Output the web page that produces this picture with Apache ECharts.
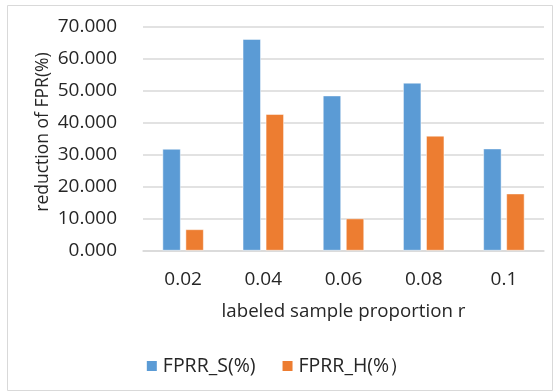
<!DOCTYPE html>
<html>
<head>
<meta charset="utf-8">
<script src="https://cdn.jsdelivr.net/npm/echarts@6/dist/echarts.min.js"></script>
<style>
html,body{margin:0;padding:0;background:#fff;}
#chart{width:554px;height:392px;}
</style>
</head>
<body>
<div id="chart"></div>
<script>
const categories = ['0.02', '0.04', '0.06', '0.08', '0.1'];
const fprrS = [31.8, 66.2, 48.5, 52.5, 31.9];
const fprrH = [6.6, 42.7, 10.0, 35.9, 17.8];
const seriesNames = ['FPRR_S(%)', 'FPRR_H(%）'];
const yTicks = { min: 0, max: 70, interval: 10 };
const yName = 'reduction of FPR(%)';
const xName = 'labeled sample proportion r';

const FONT = 'Open Sans';
const TXT = '#262626';
const chart = echarts.init(document.getElementById('chart'));
chart.setOption({
  animation: false,
  textStyle: { fontFamily: FONT },
  graphic: [{
    type: 'rect',
    shape: { x: 7.5, y: 5.5, width: 545, height: 385 },
    style: { fill: 'none', stroke: '#D9D9D9', lineWidth: 1 },
    silent: true
  }, {
    type: 'text',
    x: 43, y: 132,
    rotation: Math.PI / 2,
    style: {
      text: yName, fontFamily: FONT, fontSize: 17.5, fill: TXT,
      align: 'center', verticalAlign: 'middle'
    },
    silent: true
  }],
  grid: { left: 143, right: 10, top: 27, bottom: 141.5, containLabel: false },
  legend: {
    data: seriesNames,
    top: 351,
    left: 'center',
    itemWidth: 12,
    itemHeight: 12,
    itemGap: 25,
    icon: 'rect',
    textStyle: { fontFamily: FONT, fontSize: 19.5, color: TXT }
  },
  xAxis: {
    type: 'category',
    data: categories,
    name: xName,
    nameLocation: 'middle',
    nameGap: 52,
    nameTextStyle: { fontFamily: FONT, fontSize: 18.7, color: TXT },
    axisTick: { show: false },
    axisLine: { lineStyle: { color: '#D9D9D9', width: 1.5 } },
    axisLabel: { fontFamily: FONT, fontSize: 19, color: TXT, margin: 20 }
  },
  yAxis: {
    type: 'value',
    min: yTicks.min, max: yTicks.max, interval: yTicks.interval,
    axisLine: { show: false },
    axisTick: { show: false },
    splitLine: { lineStyle: { color: '#D9D9D9', width: 1.5 } },
    axisLabel: {
      fontFamily: FONT, fontSize: 19, color: TXT, margin: 26,
      formatter: v => v.toFixed(3)
    }
  },
  series: [
    {
      name: seriesNames[0], type: 'bar', data: fprrS,
      barWidth: 18, barGap: '28%',
      itemStyle: { color: '#5B9BD5', borderColor: '#ffffff', borderWidth: 0.5 }
    },
    {
      name: seriesNames[1], type: 'bar', data: fprrH,
      barWidth: 18,
      itemStyle: { color: '#ED7D31', borderColor: '#ffffff', borderWidth: 0.5 }
    }
  ]
});
</script>
</body>
</html>
